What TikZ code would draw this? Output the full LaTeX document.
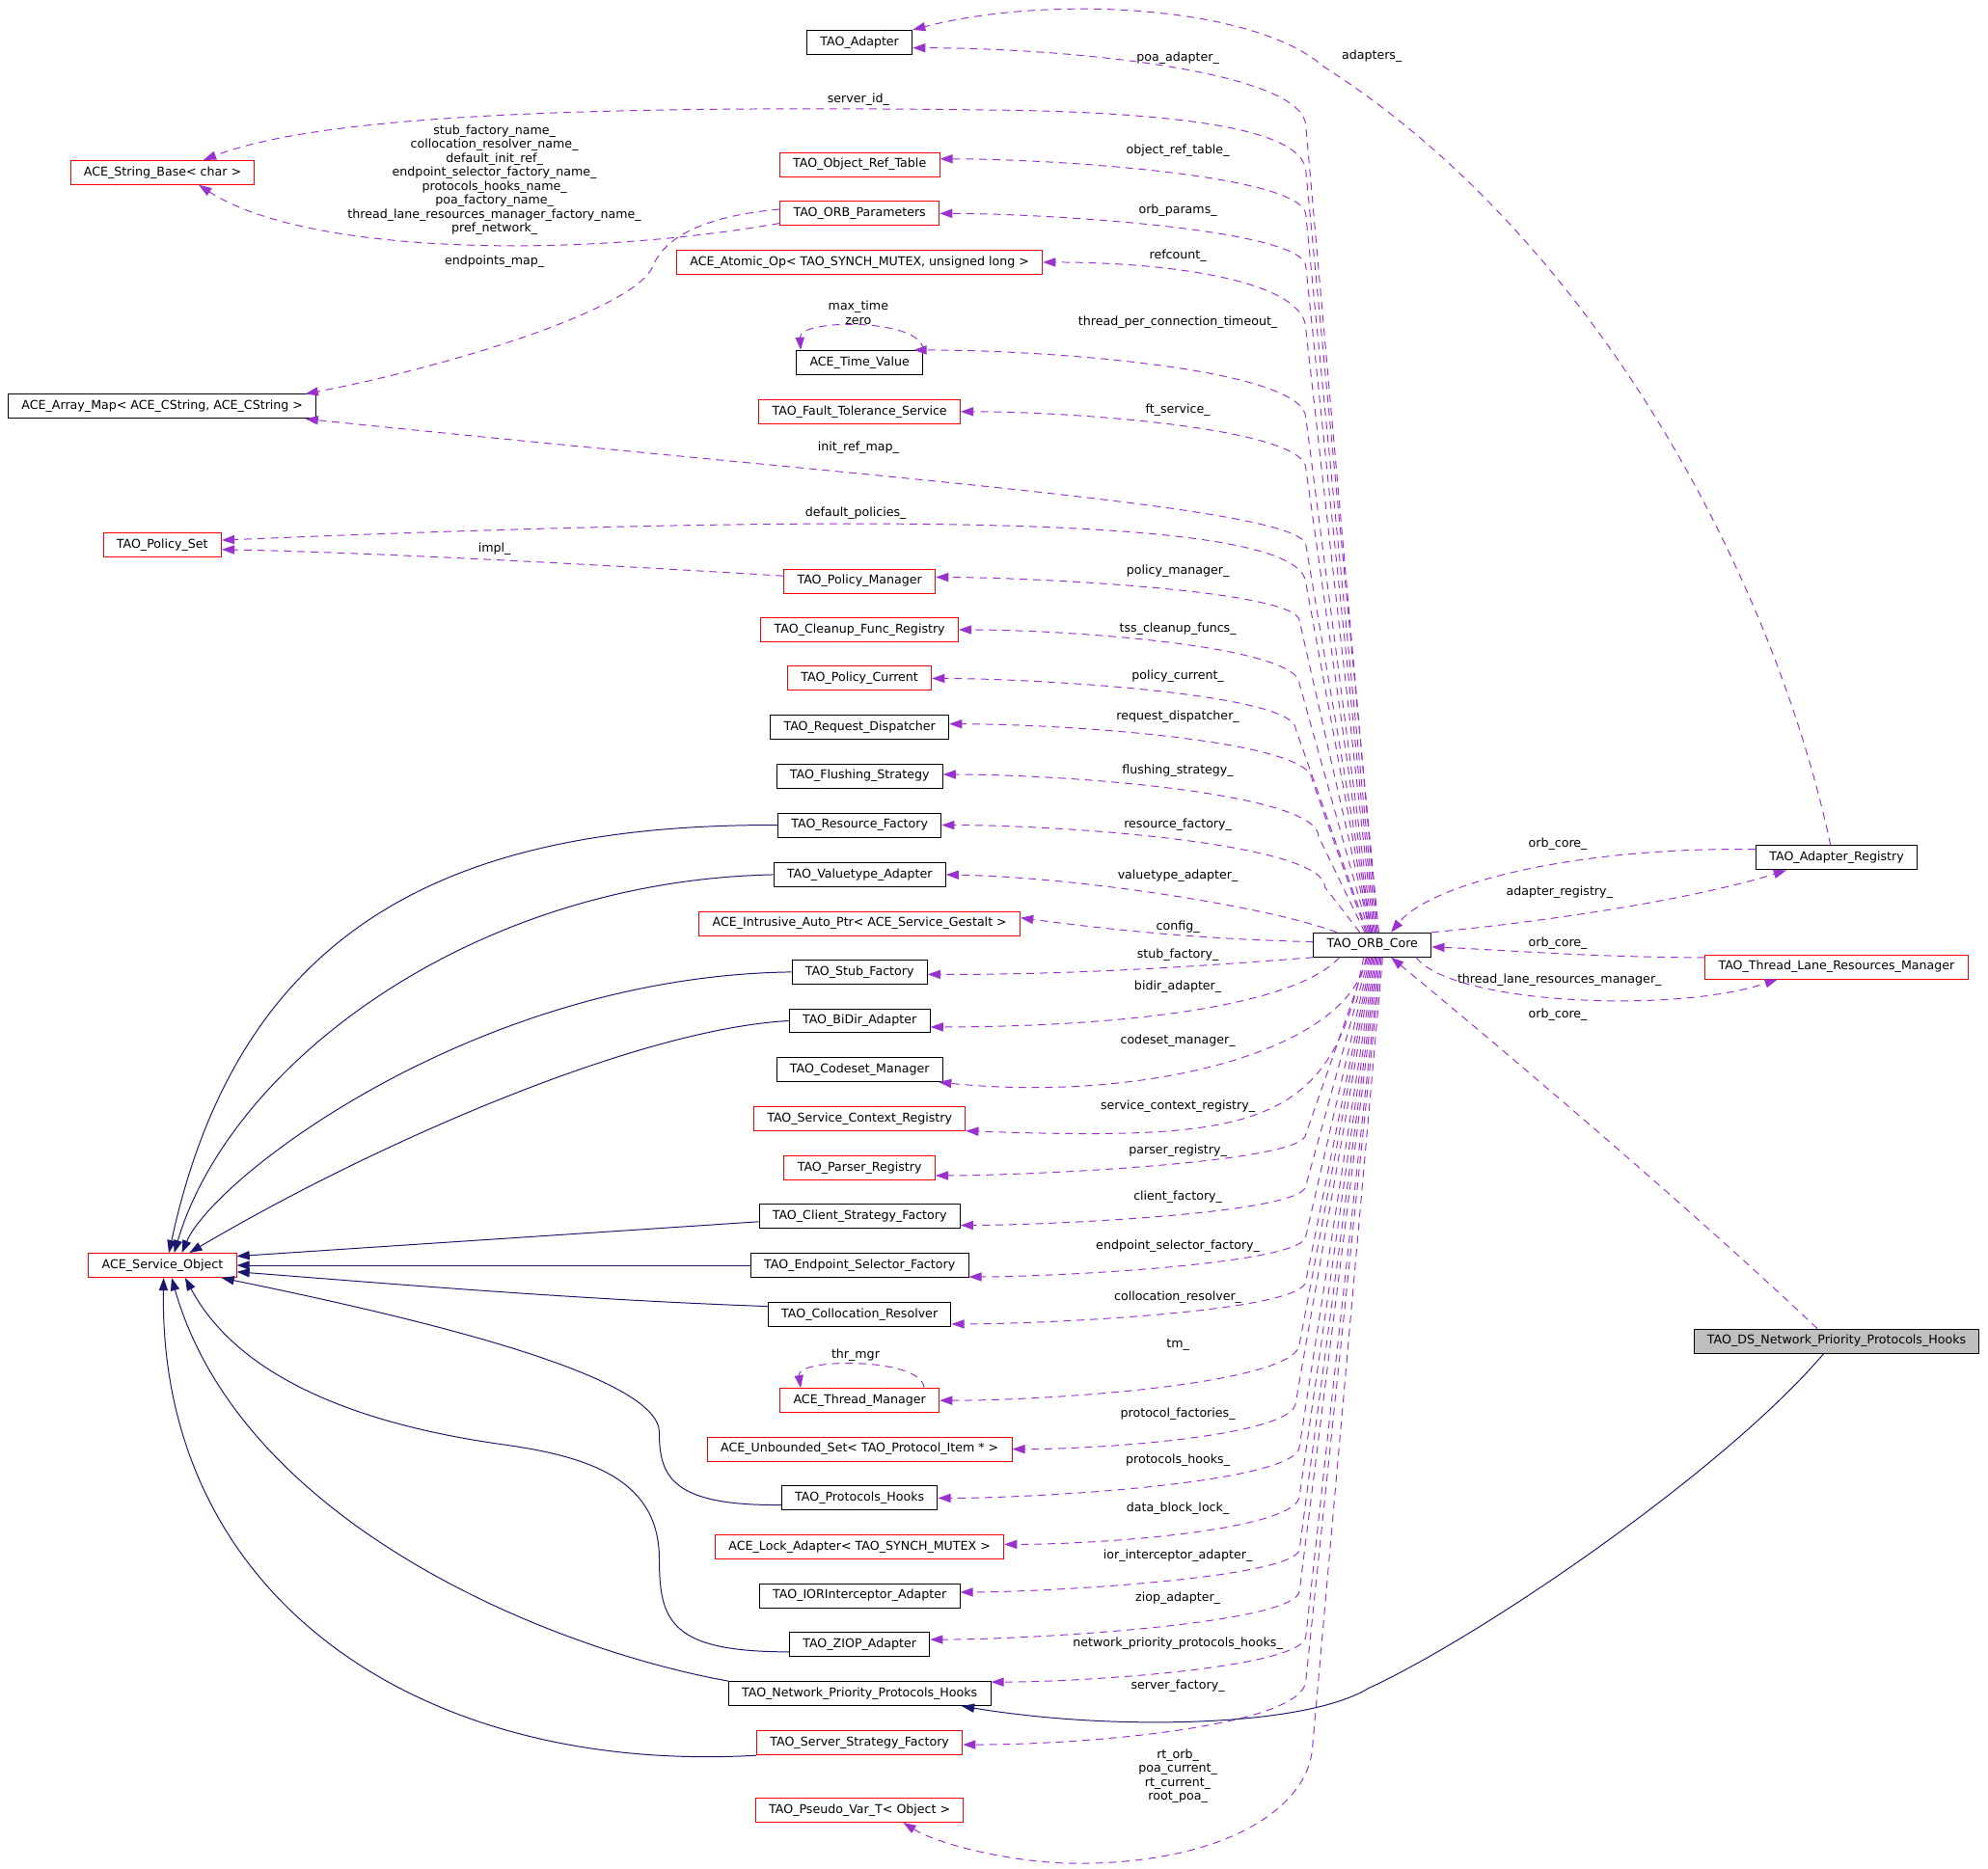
\documentclass[tikz,border=0pt]{standalone}
\usepackage{fontspec}
\setmainfont{DejaVu Sans}
\usetikzlibrary{arrows.meta}
\definecolor{memberPurple}{HTML}{9A32CD}
\definecolor{inheritNavy}{HTML}{191970}
\definecolor{focusGrey}{HTML}{BFBFBF}
\newcommand{\boxfont}{\fontsize{9.6}{11.06}\selectfont}

\begin{document}
\begin{tikzpicture}
[x=1pt,y=-1pt,
 classBox/.style={shape=rectangle,draw=black,line width=0.76pt,minimum height=19pt,
   inner xsep=10.5pt,inner ysep=0pt,font=\boxfont},%
 redBox/.style={classBox,draw=red},%
 focusBox/.style={classBox,fill=focusGrey},%
 edgeLabel/.style={inner sep=0pt,align=center,font=\boxfont}]
\useasboundingbox (0,0) rectangle (1568,1474);
%% nodes or classes
\foreach \nodename/\y/\kind/\txt in {
  Adapter/33.4/classBox/{TAO\_Adapter},
  ObjRefTable/129.8/redBox/{TAO\_Object\_Ref\_Table},
  OrbParams/168.4/redBox/{TAO\_ORB\_Parameters},
  AtomicOp/206.9/redBox/{ACE\_Atomic\_Op< TAO\_SYNCH\_MUTEX, unsigned long >},
  TimeValue/286/classBox/{ACE\_Time\_Value},
  FaultTol/324.7/redBox/{TAO\_Fault\_Tolerance\_Service},
  PolicyMgr/458.5/redBox/{TAO\_Policy\_Manager},
  CleanupReg/496.8/redBox/{TAO\_Cleanup\_Func\_Registry},
  PolicyCur/535.2/redBox/{TAO\_Policy\_Current},
  ReqDisp/573.6/classBox/{TAO\_Request\_Dispatcher},
  FlushStrat/612.1/classBox/{TAO\_Flushing\_Strategy},
  ResFactory/650.9/classBox/{TAO\_Resource\_Factory},
  ValueAdapter/690/classBox/{TAO\_Valuetype\_Adapter},
  AutoPtr/728.5/redBox/{ACE\_Intrusive\_Auto\_Ptr< ACE\_Service\_Gestalt >},
  StubFactory/766.8/classBox/{TAO\_Stub\_Factory},
  BiDirAdapter/805.3/classBox/{TAO\_BiDir\_Adapter},
  CodesetMgr/843.8/classBox/{TAO\_Codeset\_Manager},
  SvcCtxReg/882.3/redBox/{TAO\_Service\_Context\_Registry},
  ParserReg/921.1/redBox/{TAO\_Parser\_Registry},
  ClientStrat/959.6/classBox/{TAO\_Client\_Strategy\_Factory},
  EndpointSel/998.2/classBox/{TAO\_Endpoint\_Selector\_Factory},
  CollocRes/1036.9/classBox/{TAO\_Collocation\_Resolver},
  ThreadMgr/1104.8/redBox/{ACE\_Thread\_Manager},
  ProtoSet/1143.2/redBox/{ACE\_Unbounded\_Set< TAO\_Protocol\_Item * >},
  ProtoHooks/1181.8/classBox/{TAO\_Protocols\_Hooks},
  LockAdapter/1220.3/redBox/{ACE\_Lock\_Adapter< TAO\_SYNCH\_MUTEX >},
  IORAdapter/1258.8/classBox/{TAO\_IORInterceptor\_Adapter},
  ZiopAdapter/1297.3/classBox/{TAO\_ZIOP\_Adapter},
  NetPrioHooks/1336/classBox/{TAO\_Network\_Priority\_Protocols\_Hooks},
  ServerStrat/1374.9/redBox/{TAO\_Server\_Strategy\_Factory},
  PseudoVar/1428/redBox/{TAO\_Pseudo\_Var\_T< Object >}}
{
  \node (\nodename) at (678,\y) [\kind] {\txt};
}
\node (StringBase) at (128.2,136.1) [redBox] {ACE\_String\_Base< char >};
\node (ArrayMap) at (128,320.6) [classBox] {ACE\_Array\_Map< ACE\_CString, ACE\_CString >};
\node (PolicySet) at (128,430.2) [redBox] {TAO\_Policy\_Set};
\node (ServiceObj) at (128.2,998.2) [redBox] {ACE\_Service\_Object};
\node (OrbCore) at (1082.5,745.4) [classBox] {TAO\_ORB\_Core};
\node (AdapterReg) at (1448.6,676.7) [classBox] {TAO\_Adapter\_Registry};
\node (ThreadLane) at (1448.5,762.7) [redBox] {TAO\_Thread\_Lane\_Resources\_Manager};
\node (DsHooks) at (1448.6,1058) [focusBox] {TAO\_DS\_Network\_Priority\_Protocols\_Hooks};
%% edges or lines
\tikzstyle{memberEdge}=[draw=memberPurple,line width=0.75pt,dash pattern=on 6pt off 4.5pt,
  -{Triangle[length=10pt,width=7pt]}]
\tikzstyle{inheritEdge}=[draw=inheritNavy,line width=0.75pt,-{Triangle[length=10pt,width=7pt]}]
% members above the core
\foreach \tgt/\ang/\ey/\xs/\xb/\R/\txt/\ly in {
  Adapter/-6/37.9/4pt/1030/62/{poa\_adapter\_}/45.7,
  ObjRefTable/4.5/124.8/3pt/1030/45/{object\_ref\_table\_}/118.5,
  OrbParams/0/168.4/2pt/1030/42/{orb\_params\_}/165.7,
  AtomicOp/0/206.9/1pt/1030/53/{refcount\_}/201.5,
  TimeValue/13/275/0pt/1030/55/{thread\_per\_connection\_timeout\_}/253.9,
  FaultTol/0/324.7/-1pt/1030/45/{ft\_service\_}/323.2,
  PolicyMgr/3/455/-2pt/1025/35/{policy\_manager\_}/450.4,
  CleanupReg/0/496.8/-3pt/1025/43/{tss\_cleanup\_funcs\_}/496.5,
  PolicyCur/0/535.2/-4pt/1022/40/{policy\_current\_}/533.3,
  ReqDisp/2.7/570.5/-5pt/1035/45/{request\_dispatcher\_}/565.6,
  FlushStrat/1/611/-6pt/1040/49/{flushing\_strategy\_}/608.3,
  ResFactory/0/650.9/-10pt/1045/49/{resource\_factory\_}/650.9}
{
  \draw[memberEdge] ([xshift=\xs]OrbCore.north) -- (\xb,\ey+\R)
    .. controls +(0,-0.7*\R) and +(2*\R,0) .. (\tgt.\ang);
  \node (lab\tgt) at (929,\ly) [edgeLabel] {\txt};
}
% members below the core
\foreach \tgt/\ang/\ey/\xs/\xb/\R/\txt/\ly in {
  ParserReg/-6.2/927.6/-4pt/1030/33/{parser\_registry\_}/907.6,
  ClientStrat/-5.4/967.2/-3pt/1030/32/{client\_factory\_}/944.4,
  EndpointSel/-6.5/1007/-2pt/1030/32/{endpoint\_selector\_factory\_}/983.2,
  CollocRes/-6.6/1045.4/-1pt/1030/35/{collocation\_resolver\_}/1023.2,
  ThreadMgr/0/1104.8/0pt/1025/45/{tm\_}/1061.3,
  ProtoSet/0/1143.2/1pt/1022/37/{protocol\_factories\_}/1115.2,
  ProtoHooks/0/1181.8/2pt/1025/41/{protocols\_hooks\_}/1151.8,
  LockAdapter/1/1218.6/3pt/1025/39/{data\_block\_lock\_}/1189.7,
  IORAdapter/2.9/1254.7/4pt/1025/33/{ior\_interceptor\_adapter\_}/1227,
  ZiopAdapter/4.9/1292.6/5pt/1025/38/{ziop\_adapter\_}/1260.4,
  NetPrioHooks/5.2/1326.5/6pt/1030/36/{network\_priority\_protocols\_hooks\_}/1296.2,
  ServerStrat/-1/1376.3/7pt/1030/51/{server\_factory\_}/1329.9}
{
  \draw[memberEdge] ([xshift=\xs]OrbCore.south) -- (\xb,\ey-\R)
    .. controls +(0,0.7*\R) and +(2*\R,0) .. (\tgt.\ang);
  \node (lab\tgt) at (929,\ly) [edgeLabel] {\txt};
}
% members near the core
\draw[memberEdge] ([xshift=-28pt]OrbCore.north) .. controls (1000,715) and (850,692) .. (ValueAdapter.0);
\node (labValueAdapter) at (929,691.3) [edgeLabel] {valuetype\_adapter\_};
\draw[memberEdge] (OrbCore.177) .. controls (950,741) and (880,734) .. (AutoPtr.2);
\node (labAutoPtr) at (929,730.9) [edgeLabel] {config\_};
\draw[memberEdge] (OrbCore.south west) .. controls (950,762) and (850,769) .. (StubFactory.-2);
\node (labStubFactory) at (929,753) [edgeLabel] {stub\_factory\_};
\draw[memberEdge] ([xshift=-26pt]OrbCore.south) .. controls (1020,795) and (880,810) .. (BiDirAdapter.-5.8);
\node (labBiDirAdapter) at (929,778.7) [edgeLabel] {bidir\_adapter\_};
\draw[memberEdge] ([xshift=-5pt]OrbCore.south) .. controls (1065,830) and (900,870) .. (CodesetMgr.-9.9);
\node (labCodesetMgr) at (929,821.3) [edgeLabel] {codeset\_manager\_};
\draw[memberEdge] ([xshift=-7pt]OrbCore.south) .. controls (1050,890) and (990,900) .. (SvcCtxReg.south east);
\node (labSvcCtxReg) at (929,873) [edgeLabel] {service\_context\_registry\_};
\draw[memberEdge] ([xshift=8pt]OrbCore.south) -- (1035,1380)
  .. controls (1030,1430) and (960,1470) .. (850,1470)
  .. controls (800,1470) and (740,1455) .. (PseudoVar.-16);
\node (labPseudoVar) at (929,1401.2) [edgeLabel] {rt\_orb\_\\poa\_current\_\\rt\_current\_\\root\_poa\_};
% long members to the left column
\draw[memberEdge] ([xshift=5pt]OrbCore.north) -- (1030,135)
  .. controls (1028,105) and (950,90) .. (800,87)
  .. controls (500,83) and (260,88) .. (StringBase.17);
\node (labServerId) at (677,78.6) [edgeLabel] {server\_id\_};
\draw[memberEdge] ([xshift=-1pt]OrbCore.north) -- (1030,430)
  .. controls (1027,400) and (700,378) .. (ArrayMap.-5);
\node (labInitRef) at (677,352.9) [edgeLabel] {init\_ref\_map\_};
\draw[memberEdge] ([xshift=-2pt]OrbCore.north) -- (1030,460)
  .. controls (1027,415) and (800,400) .. (PolicySet.5.5);
\node (labDefPolicies) at (675,404.7) [edgeLabel] {default\_policies\_};
\draw[memberEdge] (PolicyMgr.176) .. controls (480,446) and (300,436) .. (PolicySet.-4.4);
\node (labImpl) at (390,433) [edgeLabel] {impl\_};
\draw[memberEdge] (OrbParams.177) .. controls (560,170) and (525,185) .. (515,210)
  .. controls (500,245) and (350,290) .. (ArrayMap.5.5);
\node (labEndpoints) at (390,206.7) [edgeLabel] {endpoints\_map\_};
\draw[memberEdge] (OrbParams.187.8) .. controls (450,205) and (240,200) .. (StringBase.-19.5);
\node (labNames) at (390,142.1) [edgeLabel] {stub\_factory\_name\_\\collocation\_resolver\_name\_\\
  default\_init\_ref\_\\endpoint\_selector\_factory\_name\_\\protocols\_hooks\_name\_\\
  poa\_factory\_name\_\\thread\_lane\_resources\_manager\_factory\_name\_\\pref\_network\_};
% self references
\draw[memberEdge] (TimeValue.11.5) .. controls (728,251) and (630,251) .. (TimeValue.168);
\node (labTimeValue) at (677,246.7) [edgeLabel] {max\_time\\zero};
\draw[memberEdge] (ThreadMgr.11.4) .. controls (728,1070.8) and (628,1070.8) .. (ThreadMgr.168.2);
\node (labThreadMgr) at (674.8,1069) [edgeLabel] {thr\_mgr};
% right hand side
\draw[memberEdge] (AdapterReg.174.6) .. controls (1250,668) and (1130,695) .. (OrbCore.34.5);
\node (labOrbCoreA) at (1228.7,666.1) [edgeLabel] {orb\_core\_};
\draw[memberEdge] (OrbCore.north east) .. controls (1230,726) and (1340,708) .. (AdapterReg.-166);
\node (labAdapterReg) at (1230,704.1) [edgeLabel] {adapter\_registry\_};
\draw[memberEdge] (ThreadLane.176.9) .. controls (1250,755) and (1180,749) .. (OrbCore.-2.8);
\node (labOrbCoreB) at (1228.7,744.1) [edgeLabel] {orb\_core\_};
\draw[memberEdge] (OrbCore.-16.9) .. controls (1145,792) and (1320,800) .. (ThreadLane.-168.6);
\node (labThreadLane) at (1230,773.2) [edgeLabel] {thread\_lane\_resources\_manager\_};
\draw[memberEdge] (DsHooks.147.1) .. controls (1330,950) and (1170,815) .. (OrbCore.-34.5);
\node (labOrbCoreC) at (1228.7,800.3) [edgeLabel] {orb\_core\_};
\draw[memberEdge] (AdapterReg.116.3) .. controls (1400,460) and (1260,190) .. (1043.8,52.4)
  .. controls (990,5) and (830,-5) .. (Adapter.north east);
\node (labAdapters) at (1082,44.3) [edgeLabel] {adapters\_};
% inheritance
\draw[inheritEdge] (ResFactory.west) .. controls (361,650) and (190,726) .. (ServiceObj.63);
\draw[inheritEdge] (ValueAdapter.west) .. controls (370,695) and (181,841) .. (ServiceObj.47);
\draw[inheritEdge] (StubFactory.west) .. controls (375,770) and (169,929) .. (ServiceObj.33.6);
\draw[inheritEdge] (BiDirAdapter.west) .. controls (500,812) and (290,905) .. (ServiceObj.25.6);
\draw[inheritEdge] (ClientStrat.183) -- (ServiceObj.7);
\draw[inheritEdge] (EndpointSel.west) -- (ServiceObj.east);
\draw[inheritEdge] (CollocRes.175.3) .. controls (450,1025) and (300,1012) .. (ServiceObj.-5);
\draw[inheritEdge] (ProtoHooks.185.5) .. controls (530,1188) and (520,1165) .. (520,1130)
  .. controls (520,1085) and (330,1040) .. (ServiceObj.-12.1);
\draw[inheritEdge] (ZiopAdapter.186) .. controls (530,1303) and (520,1280) .. (520,1230)
  .. controls (520,1170) and (470,1150) .. (400,1140)
  .. controls (290,1125) and (190,1090) .. (ServiceObj.-29.5);
\draw[inheritEdge] (NetPrioHooks.north west) .. controls (430,1300) and (190,1200) .. (ServiceObj.-54.4);
\draw[inheritEdge] (ServerStrat.south west) .. controls (330,1400) and (125,1260) .. (ServiceObj.-85);
\draw[inheritEdge] (DsHooks.-136) .. controls (1360,1160) and (1170,1290) .. (1079,1332)
  .. controls (1030,1362) and (880,1366) .. (NetPrioHooks.-7);
\end{tikzpicture}
\end{document}
